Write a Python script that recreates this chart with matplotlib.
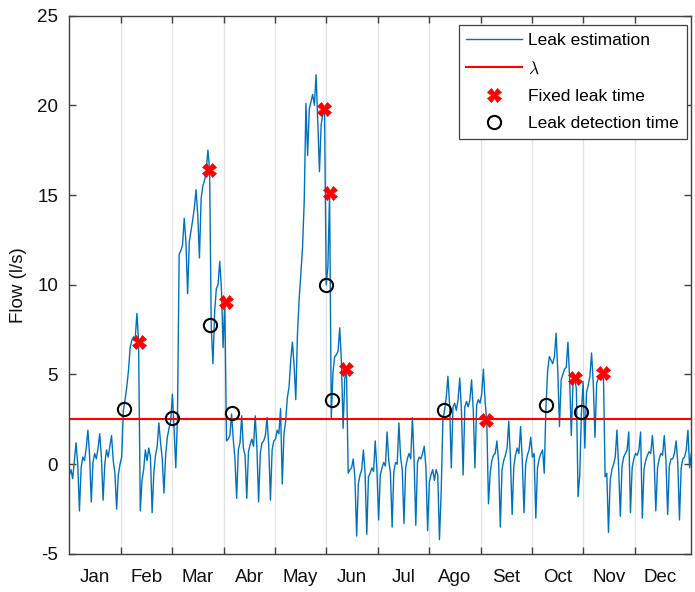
import numpy as np
import matplotlib
matplotlib.use("Agg")
import matplotlib.pyplot as plt
from matplotlib.ticker import FixedLocator, NullFormatter, FixedFormatter

# leak estimation, one value per day (l/s)
flow_d000 = [-0.6, -0.3, -0.8, 0.2, 1.2, 0.0, -2.6, -0.2, 0.4, 0.2,
             0.9, 1.9, 0.5, -2.1, 0.1, 0.6, 0.3, 0.9, 1.7, 0.4,
             -2.0, 0.0, 0.8, 0.4, 1.0, 1.6, 0.2, -0.5, -2.5, -0.6,
             0.0, 0.4, 3.0, 3.6, 4.3, 5.2, 6.5, 6.9, 7.1, 7.0,
             8.4, 6.8, -2.6, -0.9, -0.3, 0.8, 0.2, 0.9, 0.4, -2.7]
flow_d050 = [-0.5, 0.5, 1.0, 2.3, 1.2, 0.3, -1.6, 0.5, 1.5, 2.0,
             2.4, 3.9, 2.0, -0.2, 2.6, 11.7, 11.9, 12.2, 13.7, 12.4,
             9.5, 12.4, 13.0, 13.6, 14.3, 15.3, 13.9, 11.5, 14.8, 15.5,
             15.8, 16.3, 17.5, 16.4, 7.6, 5.6, 8.5, 9.8, 10.0, 11.3,
             9.8, 6.5, 9.1, 1.3, 1.4, 1.6, 2.8, 1.4, 0.3, -1.9]
flow_d100 = [0.8, 1.2, 2.7, 0.9, 0.5, -1.9, 0.7, 1.1, 1.4, 1.0,
             2.7, 0.9, -2.1, 0.6, 1.2, 1.3, 1.6, 2.6, 1.0, -2.0,
             0.8, 1.3, 1.4, 1.9, 1.7, 3.1, -1.1, 1.7, 2.4, 3.7,
             4.3, 5.8, 6.8, 5.5, 3.6, 7.3, 9.2, 10.6, 12.1, 14.7,
             20.1, 17.2, 19.8, 20.2, 20.6, 20.0, 21.7, 19.1, 16.3, 18.9]
flow_d150 = [19.5, 19.8, 10.0, 11.0, 15.1, 2.6, 5.1, 6.0, 6.1, 6.3,
             7.6, 5.7, 2.0, 4.8, 5.2, -0.5, -0.3, -0.2, 0.3, -0.8,
             -4.0, -1.1, -0.6, -0.3, 0.8, -0.5, -3.9, -0.7, -0.5, -0.2,
             -0.4, 1.3, -0.3, -3.1, -0.6, -0.2, 0.1, -0.1, 1.8, 0.2,
             -0.5, -3.5, -0.4, 0.1, 0.0, 2.3, 0.4, -0.3, -3.3, -0.2]
flow_d200 = [0.3, 0.6, 0.3, 2.6, 0.2, -3.4, 0.1, 0.4, 0.3, 0.6,
             1.0, -0.2, -3.7, -1.0, -0.6, -0.3, -0.9, -0.3, -0.6, -4.2,
             -1.6, 2.4, 3.0, 3.7, 4.9, 3.3, -0.2, 3.2, 3.4, 3.0,
             3.6, 4.8, 3.0, -0.6, 3.2, 3.5, 3.2, 3.6, 4.7, 3.0,
             -0.2, 3.3, 3.6, 3.4, 3.9, 5.3, 3.5, 2.4, -2.2, -0.5]
flow_d250 = [0.2, 0.5, 0.6, 1.3, 0.1, -3.5, -0.3, 0.2, 0.5, 0.9,
             2.4, 0.3, -2.8, -0.1, 0.5, 0.9, 0.6, 2.1, 0.2, -2.7,
             0.0, 0.5, 0.8, 1.5, 0.4, 0.6, -3.0, -0.2, 0.3, 0.6,
             0.8, -0.5, 3.2, 5.2, 6.0, 5.8, 5.6, 6.0, 7.3, 5.2,
             2.1, 4.7, 5.0, 5.3, 5.4, 6.8, 4.8, 1.6, 4.5, 4.8]
flow_d300 = [4.2, -1.8, -0.6, 2.9, 4.6, 0.9, 4.0, 4.4, 4.9, 6.2,
             4.5, 1.5, 4.5, 4.8, 5.0, 4.7, 5.1, -0.7, -0.5, -3.8,
             -0.9, -0.3, 0.0, 0.4, 1.9, -0.2, -2.9, -0.1, 0.4, 0.6,
             0.8, 1.8, -2.7, -0.2, 0.3, 0.6, 0.5, 0.8, 1.8, -3.0,
             -0.3, 0.2, 0.5, 0.7, 0.6, 1.6, 0.3, -2.6, -0.2, 0.3]
flow_d350 = [0.6, 0.5, 1.6, 0.2, -2.8, -0.1, 0.3, 0.3, 0.6, 1.3,
             0.1, -3.1, -0.2, 0.3, 0.4, 0.8, 1.9, -0.2, 0.6]

fixed_days = [41.2, 82.7, 92.7, 150.7, 154.3, 163.7, 246.5, 299.2, 315.7]
fixed_vals = [6.83, 16.4, 9.06, 19.8, 15.1, 5.28, 2.44, 4.83, 5.06]
detect_days = [32.4, 60.8, 83.2, 96.3, 151.9, 155.4, 221.7, 282.0, 302.7]
detect_vals = [3.06, 2.6, 7.78, 2.83, 10.0, 3.56, 3.0, 3.28, 2.89]
lam = 2.5

months = ["Jan", "Feb", "Mar", "Abr", "May", "Jun", "Jul", "Ago",
          "Set", "Oct", "Nov", "Dec"]

flow = (flow_d000 + flow_d050 + flow_d100 + flow_d150 + flow_d200
        + flow_d250 + flow_d300 + flow_d350)
days = np.arange(len(flow))
month_len = 365 / 12

plt.rcParams['font.family'] = ['Liberation Sans', 'DejaVu Sans']
plt.rcParams['mathtext.fontset'] = 'cm'
plt.rcParams['axes.unicode_minus'] = False

fig = plt.figure(figsize=(6.95, 5.92), dpi=100)
ax = fig.add_axes([0.0997, 0.0642, 0.8945, 0.9096])

ax.plot(days, flow, color='#0072BD', lw=1.0, label='Leak estimation')
ax.axhline(lam, color='#ff0000', lw=1.5, label=r'$\lambda$')
ax.plot(fixed_days, fixed_vals, 'X', color='#ff0000', ms=9.5, mec='#ff0000',
        mew=0.5, label='Fixed leak time')
ax.plot(detect_days, detect_vals, 'o', mfc='none', mec='black', ms=9.5,
        mew=1.5, label='Leak detection time')

ax.set_xlim(0, 367.8)
ax.set_ylim(-5, 25)
ax.set_yticks([-5, 0, 5, 10, 15, 20, 25])

major = [month_len * k for k in range(1, 12)]
minor = [month_len * (k + 0.5) for k in range(12)]
ax.xaxis.set_major_locator(FixedLocator(major))
ax.xaxis.set_major_formatter(NullFormatter())
ax.xaxis.set_minor_locator(FixedLocator(minor))
ax.xaxis.set_minor_formatter(FixedFormatter(months))
ax.tick_params(axis='x', which='minor', length=0, pad=11, labelsize=13.5,
               colors='#262626', labelcolor='#111111')
ax.tick_params(axis='x', which='major', direction='in', length=5,
               top=True, color='#404040', width=1)
ax.tick_params(axis='y', direction='in', length=5, right=True, pad=8,
               labelsize=13.5, color='#404040', width=1, labelcolor='#111111')
ax.grid(axis='x', which='major', color='#e3e3e3', lw=0.9)
ax.set_axisbelow(True)
for s in ax.spines.values():
    s.set_color('#404040')
    s.set_linewidth(1.0)

ax.set_ylabel('Flow (l/s)', fontsize=13.5, labelpad=7, color='#111111')

leg = ax.legend(loc='upper right', bbox_to_anchor=(0.993, 0.9824),
                borderaxespad=0, fontsize=12.5, handlelength=3.2,
                handletextpad=0.35, labelspacing=0.7, fancybox=False,
                framealpha=1, borderpad=0.45)
leg.get_frame().set_edgecolor('#404040')
leg.get_frame().set_linewidth(0.9)

fig.savefig('out.png', dpi=100)
